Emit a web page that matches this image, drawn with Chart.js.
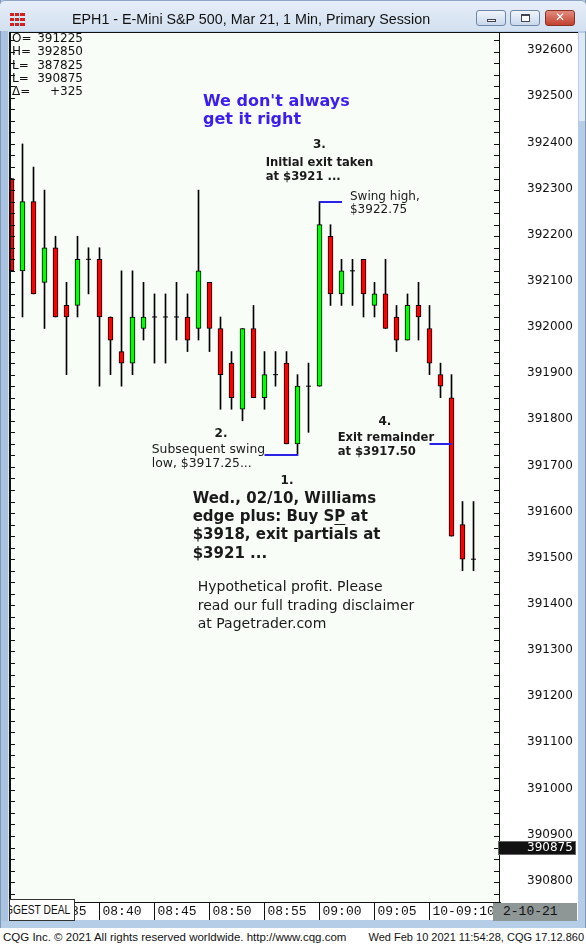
<!DOCTYPE html>
<html><head><meta charset="utf-8">
<script src="https://cdn.jsdelivr.net/npm/chart.js@4.4.1/dist/chart.umd.min.js"></script>
<style>
html,body{margin:0;padding:0;}
body{width:586px;height:947px;position:relative;overflow:hidden;background:#fff;font-family:"DejaVu Sans",sans-serif;}
#frame{position:absolute;left:0;top:0;width:586px;height:928px;background:#b6cde8;box-shadow:inset 1px 0 0 #7f97b5, inset -1px 0 0 #7f97b5;}
#rstripTop{position:absolute;left:579px;top:33px;width:6px;height:88px;background:#dfe9f4;}
#lstrip{position:absolute;left:1px;top:31px;width:7px;height:890px;background:#a9c2e0;border-right:1px solid #d8e4f1;}
#cv{position:absolute;left:0;top:0;z-index:2;}
#title{position:absolute;left:0;top:0;width:586px;height:31px;background:linear-gradient(#e6eef8,#d3e0f0);border-top:1px solid #8ea6c4;box-sizing:border-box;z-index:3;border-radius:5px 5px 0 0;}
#title .t{position:absolute;left:72px;top:10px;font-family:"Liberation Sans",Arial,sans-serif;font-size:14.3px;color:#111;white-space:nowrap;}
#icon{position:absolute;left:10px;top:12px;width:15px;height:13px;background:
 linear-gradient(90deg,#d42020 0 4px,transparent 4px 5px,#d42020 5px 9px,transparent 9px 10px,#d42020 10px 15px);
 -webkit-mask:linear-gradient(#000 0 3px,transparent 3px 5px,#000 5px 8px,transparent 8px 10px,#000 10px 13px);}
.btn{position:absolute;top:9px;width:30px;height:16px;border:1px solid #6d86a7;border-radius:3px;background:linear-gradient(#f1f5fb,#c9d8ec);box-sizing:border-box;}
#bmin{left:476px;} #bmax{left:510px;} #bcls{left:545px;background:linear-gradient(#e38b7e,#c2412f);border-color:#8a3024;}
#bmin:after{content:"";position:absolute;left:10px;top:8px;width:9px;height:3px;border:1px solid #445;background:#fff;box-sizing:border-box;}
#bmax:after{content:"";position:absolute;left:10px;top:3px;width:9px;height:8px;border:1px solid #445;border-top-width:2px;background:#fff;box-sizing:border-box;}
#bcls:after{content:"\2715";position:absolute;left:0;top:-1px;width:28px;text-align:center;color:#fff;font:bold 12px "DejaVu Sans";}
#hdr{position:absolute;left:12px;top:32px;z-index:3;font-family:"DejaVu Sans";font-size:12px;color:#111;}
#hdr div{position:relative;width:71px;height:13.35px;line-height:13.35px;}
#hdr .v{position:absolute;right:0;top:0;}
#deal{position:absolute;left:9px;top:899px;width:66px;height:22px;background:#fff;border:1px solid #333;box-sizing:border-box;overflow:hidden;z-index:3;}
#deal span{position:absolute;left:-5px;top:3px;font-family:"Liberation Sans",sans-serif;font-size:12.5px;color:#111;white-space:nowrap;transform:scaleX(0.82);transform-origin:0 0;}
#date{position:absolute;left:493px;top:903px;width:84px;height:18px;background:#8e9696;z-index:3;}
#date span{position:absolute;left:10px;top:1px;font-family:"Liberation Mono";font-size:13px;color:#111;}
#status{position:absolute;left:0;top:928px;width:586px;height:19px;background:#fff;z-index:3;font-family:"Liberation Sans",Arial,sans-serif;color:#111;}
#status .l{position:absolute;left:3px;top:3px;font-size:11.5px;white-space:nowrap;}
#status .r{position:absolute;right:2px;top:3px;font-size:11px;white-space:nowrap;}
</style></head>
<body>
<div id="frame"></div><div id="lstrip"></div><div id="rstripTop"></div>
<canvas id="cv" width="586" height="947"></canvas>
<div id="title"><div id="icon"></div><span class="t">EPH1 - E-Mini S&amp;P 500, Mar 21, 1 Min, Primary Session</span>
<div class="btn" id="bmin"></div><div class="btn" id="bmax"></div><div class="btn" id="bcls"></div></div>
<div id="hdr"></div>
<div id="deal"><span>GGEST DEAL</span></div>
<div id="date"><span>2-10-21</span></div>
<div id="status"><span class="l">CQG Inc. © 2021 All rights reserved worldwide. http://www.cqg.com</span><span class="r">Wed Feb 10 2021 11:54:28, CQG 17.12.860</span></div>
<script>
// ---- data ----
const barTimes = ['08:32','08:33','08:34','08:35','08:36','08:37','08:38','08:39','08:40','08:41',
  '08:42','08:43','08:44','08:45','08:46','08:47','08:48','08:49','08:50','08:51',
  '08:52','08:53','08:54','08:55','08:56','08:57','08:58','08:59','09:00','09:01',
  '09:02','09:03','09:04','09:05','09:06','09:07','09:08','09:09','09:10','09:11',
  '09:12','09:13','09:14'];
const opens  = [392325,392125,392275,392100,392175,392050,392050,392150,392150,392025,
  391950,391925,392000,392025,392025,392025,392025,392000,392100,392000,
  391925,391825,392000,391850,391900,391925,391750,391875,391875,392200,
  392075,392125,392150,392050,392075,392025,391975,392050,392000,391900,
  391850,391575,391500];
const highs  = [392325,392400,392350,392300,392200,392100,392200,392175,392175,392025,
  392125,392125,392100,392075,392075,392100,392075,392300,392100,392025,
  391950,392000,392050,391950,391950,391950,391900,391925,392275,392225,
  392150,392150,392150,392100,392150,392050,392075,392100,392050,391925,
  391900,391625,391625];
const lows   = [392125,392025,392075,392000,392025,391900,392025,392075,391875,391900,
  391875,391900,391975,391925,391925,391975,391950,391975,391950,391825,
  391825,391800,391850,391825,391875,391750,391725,391775,391875,392050,
  392050,392050,392025,392025,392000,391950,391975,391975,391900,391850,
  391550,391475,391475];
const closes = [392125,392275,392075,392175,392025,392025,392150,392150,392025,391975,
  391925,392025,392025,392025,392025,392025,391975,392125,392000,391900,
  391850,392000,391850,391900,391900,391750,391875,391875,392225,392075,
  392125,392125,392075,392075,392000,391975,392050,392025,391925,391875,
  391550,391500,391500];
const timeTickLabels = ['08:35','08:40','08:45','08:50','08:55','09:00','09:05','10-09:10'];
const priceLabels = [392600,392500,392400,392300,392200,392100,392000,391900,391800,391700,
  391600,391500,391400,391300,391200,391100,391000,390900,390800];
const lastPrice = 390875;
const headerLabels = ['O=','H=','L=','L=','Δ='];
const headerValues = ['391225','392850','387825','390875','+325'];

// ---- annotations (anchored in bar index / price) ----
const levelMarks = [
  {from:28, to:30, price:392275},
  {from:23, to:26, price:391725},
  {from:38, to:40, price:391750}
];
const B = '"DejaVu Sans"';
const notes = [
  {bar:17.41, price:392495, lines:["We don't always","get it right"], font:'bold 16px '+B, color:'#3a1ef0', align:'left', lh:18},
  {bar:27.99, price:392401, lines:["3."], font:'bold 12px '+B, color:'#1a1a1a', align:'center', lh:14},
  {bar:23.11, price:392363, lines:["Initial exit taken","at $3921 ..."], font:'bold 11.6px '+B, color:'#1a1a1a', align:'left', lh:14},
  {bar:30.77, price:392289, lines:["Swing high,","$3922.75"], font:'12px '+B, color:'#1a1a1a', align:'left', lh:13.5},
  {bar:19.05, price:391775, lines:["2."], font:'bold 12px '+B, color:'#1a1a1a', align:'center', lh:14},
  {bar:12.75, price:391741, lines:["Subsequent swing","low, $3917.25..."], font:'12.4px '+B, color:'#1a1a1a', align:'left', lh:14},
  {bar:33.95, price:391800, lines:["4."], font:'bold 12px '+B, color:'#1a1a1a', align:'center', lh:14},
  {bar:29.65, price:391767, lines:["Exit remainder","at $3917.50"], font:'bold 11.6px '+B, color:'#1a1a1a', align:'left', lh:14},
  {bar:25.05, price:391674, lines:["1."], font:'bold 12px '+B, color:'#1a1a1a', align:'center', lh:14},
  {bar:16.47, price:391633, lines:["Wed., 02/10, Williams","edge plus: Buy SP at","$3918, exit partials at","$3921 ..."], font:'bold 15px '+B, color:'#1a1a1a', align:'left', lh:18.1, underline:{line:1, before:"edge plus: Buy S", text:"P"}},
  {bar:16.93, price:391442, lines:["Hypothetical profit. Please","read our full trading disclaimer","at Pagetrader.com"], font:'14px '+B, color:'#1a1a1a', align:'left', lh:18.5}
];

// header block
const hdr = document.getElementById('hdr');
headerLabels.forEach((l,i)=>{
  const d=document.createElement('div');
  const a=document.createElement('span'); a.textContent=l;
  const v=document.createElement('span'); v.className='v'; v.textContent=headerValues[i];
  d.appendChild(a); d.appendChild(v); hdr.appendChild(d);
});

const timeTickBars = timeTickLabels.map(l => barTimes.indexOf(l.slice(-5)));

const candlePlugin = {
  id:'cqg',
  beforeDraw(chart){
    const {ctx, chartArea:a, scales:{x,y}} = chart;
    ctx.save();
    ctx.fillStyle='#f8fdf8'; ctx.fillRect(a.left,a.top,a.right-a.left,a.bottom-a.top);
    ctx.fillStyle='#ffffff';
    ctx.fillRect(a.right,a.top,y.right-a.right,x.bottom-a.top);
    ctx.fillRect(a.left,a.bottom,a.right-a.left,x.bottom-a.bottom);
    ctx.restore();
  },
  afterDatasetsDraw(chart){
    const {ctx, chartArea:a, scales:{x,y}} = chart;
    ctx.save();
    // blue level marks
    ctx.strokeStyle='#2b22e8'; ctx.lineWidth=2;
    levelMarks.forEach(m=>{
      const yy=Math.round(y.getPixelForValue(m.price));
      ctx.beginPath(); ctx.moveTo(x.getPixelForValue(m.from),yy); ctx.lineTo(x.getPixelForValue(m.to)+0.5,yy); ctx.stroke();
    });
    // notes
    ctx.textBaseline='middle';
    notes.forEach(n=>{
      ctx.font=n.font; ctx.fillStyle=n.color; ctx.textAlign=n.align;
      const px=x.getPixelForValue(n.bar), py=y.getPixelForValue(n.price)+1.5;
      n.lines.forEach((t,j)=>ctx.fillText(t,px,py+j*n.lh));
      if(n.underline){
        const u=n.underline, w0=ctx.measureText(u.before).width, w1=ctx.measureText(u.text).width;
        const uy=Math.round(py+u.line*n.lh+7)+0.5;
        ctx.strokeStyle=n.color; ctx.lineWidth=1;
        ctx.beginPath(); ctx.moveTo(px+w0,uy); ctx.lineTo(px+w0+w1,uy); ctx.stroke();
      }
    });
    // frame
    ctx.fillStyle='#111';
    ctx.fillRect(a.left-1,a.top-1,y.right-a.left+1,1);
    ctx.fillRect(a.left-1,a.top,2,a.bottom-a.top);
    ctx.fillRect(a.right-1,a.top,1,x.bottom-a.top);
    // inward ticks
    ctx.strokeStyle='#111'; ctx.lineWidth=1;
    y.ticks.forEach(t=>{
      const yy=Math.round(y.getPixelForValue(t.value))+0.5;
      if(yy<a.top||yy>a.bottom) return;
      ctx.beginPath();
      ctx.moveTo(a.left,yy); ctx.lineTo(a.left+5,yy);
      ctx.moveTo(a.right-6,yy); ctx.lineTo(a.right,yy);
      ctx.stroke();
    });
    ctx.restore();
  },
  afterDraw(chart){
    const {ctx, chartArea:a, scales:{y}} = chart;
    const yy=Math.round(y.getPixelForValue(lastPrice));
    ctx.save();
    ctx.fillStyle='#111'; ctx.fillRect(a.right-2,yy-7,78,14);
    ctx.strokeStyle='#666'; ctx.lineWidth=1; ctx.strokeRect(a.right-1.5,yy-6.5,77,13);
    ctx.fillStyle='#fff'; ctx.font='12px "DejaVu Sans"'; ctx.textAlign='left'; ctx.textBaseline='middle';
    ctx.fillText(String(lastPrice),a.right+27,yy);
    ctx.restore();
  }
};

new Chart(document.getElementById('cv').getContext('2d'), {
  type:'bar',
  data:{datasets:[
    {type:'bar', label:'range', order:3, grouped:false, barThickness:1, borderWidth:0, backgroundColor:'#000',
     data: barTimes.map((t,i)=>({x:i, y:[lows[i], highs[i]]}))},
    {type:'bar', label:'body', order:2, grouped:false, barThickness:5, borderWidth:1, borderSkipped:false, borderColor:'#000',
     backgroundColor: c => (c.raw && c.raw.y[1] > c.raw.y[0]) ? '#00ff00' : '#ff0000',
     data: barTimes.map((t,i)=>({x:i, y:[opens[i], closes[i]]})).filter(d=>d.y[0]!==d.y[1])},
    {type:'scatter', label:'doji', order:1, pointStyle:'line', radius:2.5, borderWidth:1, borderColor:'#000', showLine:false,
     data: barTimes.map((t,i)=>({x:i, y:opens[i], c:closes[i]})).filter(d=>d.y===d.c)}
  ]},
  options:{
    responsive:false, devicePixelRatio:1, animation:false,
    layout:{padding:{left:10, top:33, right:8, bottom:27}, autoPadding:false},
    plugins:{legend:{display:false}, tooltip:{enabled:false}},
    events:[],
    scales:{
      x:{type:'linear', min:-0.1364, max:44.409, offset:false,
        afterBuildTicks: s => { s.ticks = timeTickBars.map(v=>({value:v})); },
        afterFit: s => { s.height = 18; s.paddingLeft = 0; s.paddingRight = 0; },
        grid:{offset:false, drawOnChartArea:false, drawTicks:true, tickLength:18, color:'#111', lineWidth:1},
        border:{display:true, color:'#111', width:1},
        ticks:{autoSkip:false, maxRotation:0, minRotation:0, align:'start', labelOffset:3, padding:-16, color:'#111',
          font:{family:'Liberation Mono', size:13},
          callback: v => { const k = timeTickBars.indexOf(v); return k >= 0 ? timeTickLabels[k] : ''; }}
      },
      y:{type:'linear', position:'right', min:390757, max:392640.5,
        afterBuildTicks: s => { const t=[]; for(let v=390775; v<=392625; v+=25) t.push({value:v}); s.ticks=t; },
        afterFit: s => { s.width = 78; s.paddingTop = 0; s.paddingBottom = 0; },
        grid:{display:true, drawOnChartArea:false, drawTicks:false},
        border:{display:false},
        ticks:{autoSkip:false, crossAlign:'near', padding:27, labelOffset:-1.5, color:'#111', font:{family:'DejaVu Sans', size:12},
          callback: v => priceLabels.includes(v) ? String(v) : ''}
      }
    }
  },
  plugins:[candlePlugin]
});
</script>
</body></html>
